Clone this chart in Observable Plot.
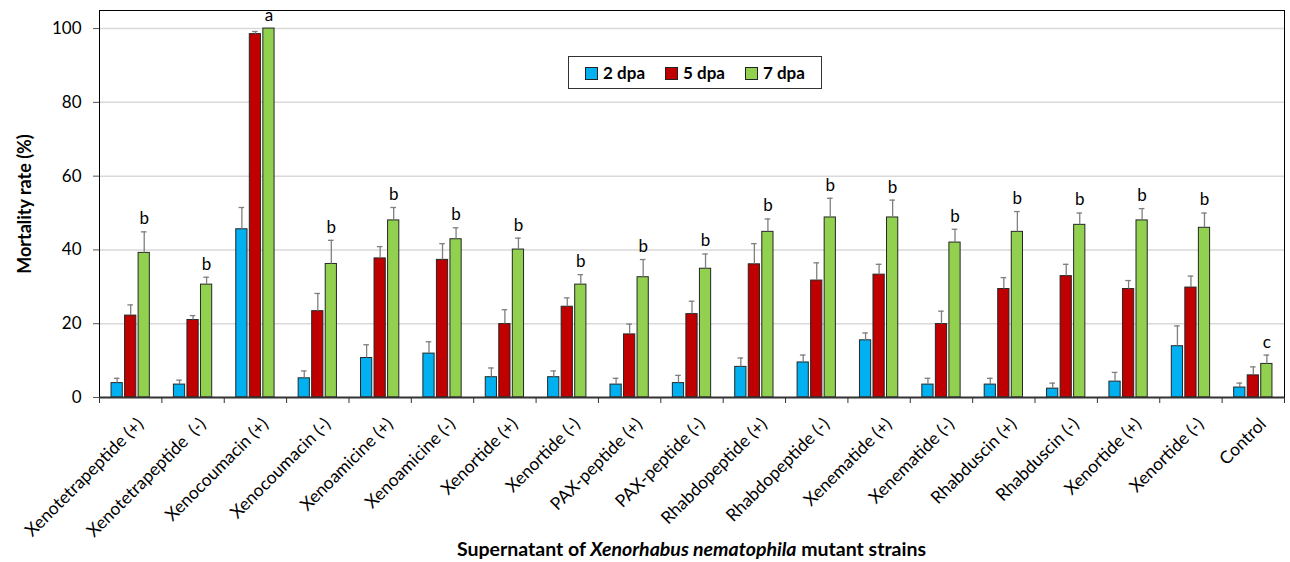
<!DOCTYPE html>
<html>
<head>
<meta charset="utf-8">
<script src="https://cdn.jsdelivr.net/npm/d3@7"></script>
<script src="https://cdn.jsdelivr.net/npm/@observablehq/plot@0.6"></script>
<style>
  body { margin: 0; background: #fff; font-family: Lato, "Open Sans", sans-serif; }
  #wrap { position: relative; width: 1290px; height: 562px; }
  #legend { position: absolute; left: 568px; top: 56px; width: 252px; height: 31px; border: 1px solid #333; background: #fff;
            display: flex; align-items: center; justify-content: center; gap: 20px; font-weight: bold; font-size: 17px; color: #000; }
  #legend span.sw { display: inline-block; width: 11px; height: 11px; border: 1px solid #222; margin-right: 5px; vertical-align: -1px; }
  #xtitle { position: absolute; left: 99px; width: 1185px; top: 537px; line-height: 24px; text-align: center; font-weight: bold; font-size: 19.5px; color: #000; }
</style>
</head>
<body>
<div id="wrap">
  <div id="chart"></div>
  <div id="legend"></div>
  <div id="xtitle">Supernatant of <i>Xenorhabus nematophila</i> mutant strains</div>
</div>
<script>
const categories = ["Xenotetrapeptide (+)", "Xenotetrapeptide  (-)", "Xenocoumacin (+)", "Xenocoumacin (-)",
  "Xenoamicine (+)", "Xenoamicine (-)", "Xenortide (+)", "Xenortide (-)", "PAX-peptide (+)", "PAX-peptide (-)",
  "Rhabdopeptide (+)", "Rhabdopeptide (-)", "Xenematide (+)", "Xenematide (-)", "Rhabduscin (+)", "Rhabduscin (-)",
  "Xenortide (+)", "Xenortide (-)", "Control"];
const seriesNames = ["2 dpa", "5 dpa", "7 dpa"];
const seriesColors = ["#00B0F0", "#C00000", "#92D050"];

const dpa2 = [3.9, 3.5, 45.6, 5.2, 10.7, 11.9, 5.5, 5.5, 3.5, 3.9, 8.3, 9.5, 15.5, 3.5, 3.5, 2.4, 4.3, 13.9, 2.7];
const dpa2Err = [1.3, 1.2, 5.9, 2.0, 3.6, 3.2, 2.5, 1.7, 1.7, 2.1, 2.4, 2.0, 2.0, 1.7, 1.7, 1.5, 2.5, 5.5, 1.2];
const dpa5 = [22.2, 21.0, 98.5, 23.4, 37.7, 37.3, 19.9, 24.6, 17.1, 22.6, 36.1, 31.7, 33.3, 19.9, 29.4, 32.9, 29.4, 29.8, 6.0];
const dpa5Err = [2.9, 1.2, 0.7, 4.8, 3.2, 4.4, 3.9, 2.4, 2.8, 3.5, 5.6, 4.8, 2.8, 3.5, 3.1, 3.2, 2.3, 3.1, 2.3];
const dpa7 = [39.2, 30.6, 100, 36.2, 48.0, 42.9, 40.1, 30.6, 32.6, 34.9, 44.9, 48.8, 48.8, 42.0, 44.9, 46.8, 48.0, 46.0, 9.1];
const dpa7Err = [5.7, 2.0, 0, 6.4, 3.5, 3.1, 3.1, 2.7, 4.8, 4.0, 3.5, 5.2, 4.7, 3.6, 5.5, 3.2, 3.2, 4.0, 2.4];
const letters = ["b", "b", "a", "b", "b", "b", "b", "b", "b", "b", "b", "b", "b", "b", "b", "b", "b", "b", "c"];
const yTicks = [0, 20, 40, 60, 80, 100];

// layout of grouped bars (in category-index units)
const offsets = [-0.217, 0, 0.217];
const barW = 0.18;
const capW = 0.09;

const values = [dpa2, dpa5, dpa7];
const errs = [dpa2Err, dpa5Err, dpa7Err];
const rows = [];
categories.forEach((c, i) => {
  seriesNames.forEach((s, k) => {
    rows.push({i, cat: c, series: s, value: values[k][i], err: errs[k][i], xc: i + offsets[k]});
  });
});
const letterRows = categories.map((c, i) => ({xc: i + offsets[2], top: dpa7[i] + dpa7Err[i], letter: letters[i]}));
const errRows = rows.filter(d => d.err > 0);
const labelRows = categories.map((c, i) => ({i, cat: c}));

const chart = Plot.plot({
  width: 1290,
  height: 530,
  marginLeft: 99,
  marginRight: 6,
  marginTop: 10,
  marginBottom: 133,
  style: {fontFamily: "Lato, 'Open Sans', sans-serif", fontSize: "15px", color: "#000", background: "#fff", overflow: "visible"},
  x: {type: "linear", domain: [-0.5, categories.length - 0.5]},
  y: {domain: [0, 104.9]},
  color: {domain: seriesNames, range: seriesColors},
  marks: [
    Plot.gridY(yTicks.filter(t => t > 0), {stroke: "#d9d9d9", strokeOpacity: 1, strokeWidth: 1.5}),
    Plot.rect(rows, {x1: d => d.xc - barW / 2, x2: d => d.xc + barW / 2, y1: 0, y2: "value", fill: "series", stroke: "#262626", strokeWidth: 1}),
    Plot.ruleX(errRows, {x: "xc", y1: "value", y2: d => d.value + d.err, stroke: "#7f7f7f", strokeWidth: 1.3}),
    Plot.ruleY(errRows, {y: d => d.value + d.err, x1: d => d.xc - capW / 2, x2: d => d.xc + capW / 2, stroke: "#7f7f7f", strokeWidth: 1.3}),
    Plot.text(letterRows, {x: "xc", y: "top", text: "letter", dy: -13, fontSize: 17, fill: "#000"}),
    Plot.frame({stroke: "#000", strokeWidth: 1}),
    Plot.ruleY([0], {stroke: "#333", strokeWidth: 2}),
    Plot.axisY(yTicks, {tickSize: 6, tickPadding: 12, fontSize: 17, label: null, stroke: "#555"}),
    Plot.axisX(d3.range(categories.length + 1).map(i => i - 0.5), {tickSize: 6, tickFormat: () => "", label: null, stroke: "#333"}),
    Plot.text(labelRows, {x: "i", y: 0, text: "cat", rotate: -45, textAnchor: "end", lineAnchor: "top", dx: 5, dy: 19, fontSize: 17.5, fill: "#000"}),
    Plot.text(["Mortality rate (%)"], {frameAnchor: "left", textAnchor: "middle", rotate: -90, dx: -74, fontWeight: "bold", fontSize: 18, fill: "#000"})
  ]
});
document.getElementById("chart").appendChild(chart);

const legend = document.getElementById("legend");
seriesNames.forEach((s, k) => {
  const item = document.createElement("div");
  const sw = document.createElement("span");
  sw.className = "sw";
  sw.style.background = seriesColors[k];
  item.appendChild(sw);
  item.appendChild(document.createTextNode(s));
  legend.appendChild(item);
});
</script>
</body>
</html>
